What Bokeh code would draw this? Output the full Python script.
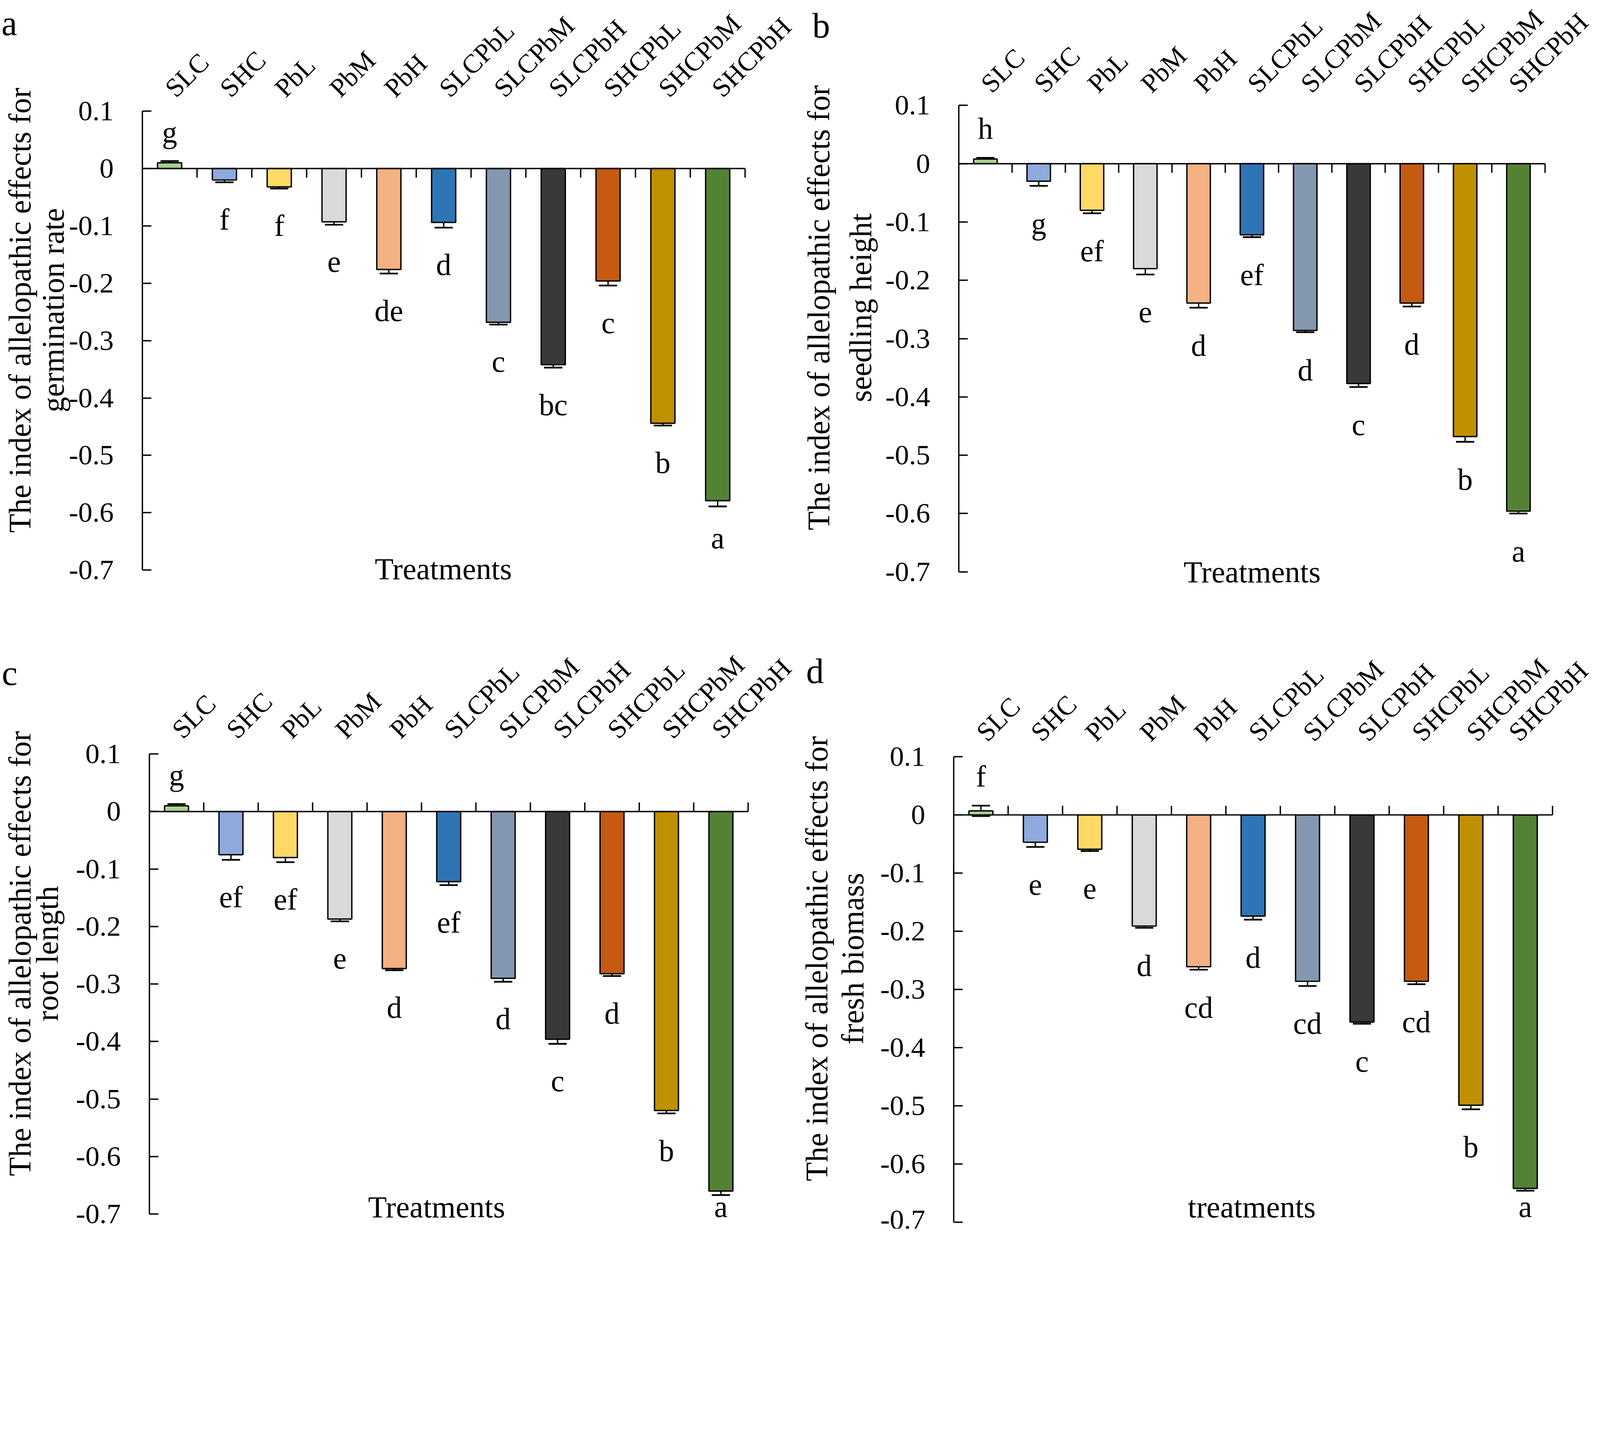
import math
from bokeh.plotting import figure
from bokeh.layouts import gridplot
from bokeh.models import (ColumnDataSource, Range1d, FixedTicker, LinearAxis,
                          NumeralTickFormatter, Whisker, TeeHead)
from bokeh.core.properties import value
from bokeh.embed import file_html
from bokeh.resources import INLINE

# ---------------- data ----------------
treatments = ["SLC", "SHC", "PbL", "PbM", "PbH", "SLCPbL", "SLCPbM",
              "SLCPbH", "SHCPbL", "SHCPbM", "SHCPbH"]
colors = ["#A9D18E", "#8FAADC", "#FFD966", "#D9D9D9", "#F4B183", "#2E75B6",
          "#8497B0", "#3A3838", "#C55A11", "#BF9000", "#548235"]

germ_mean = [0.010, -0.020, -0.032, -0.093, -0.176, -0.094, -0.268, -0.342, -0.196, -0.444, -0.579]
germ_se = [0.003, 0.004, 0.003, 0.005, 0.007, 0.009, 0.004, 0.005, 0.008, 0.004, 0.010]
germ_letters = ["g", "f", "f", "e", "de", "d", "c", "bc", "c", "b", "a"]

height_mean = [0.008, -0.030, -0.080, -0.180, -0.239, -0.122, -0.286, -0.377, -0.239, -0.468, -0.596]
height_se = [0.002, 0.008, 0.005, 0.010, 0.008, 0.004, 0.003, 0.006, 0.006, 0.009, 0.004]
height_letters = ["h", "g", "ef", "e", "d", "ef", "d", "c", "d", "b", "a"]

root_mean = [0.010, -0.075, -0.080, -0.187, -0.273, -0.122, -0.290, -0.396, -0.282, -0.520, -0.660]
root_se = [0.003, 0.009, 0.008, 0.004, 0.003, 0.006, 0.006, 0.008, 0.004, 0.005, 0.007]
root_letters = ["g", "ef", "ef", "e", "d", "ef", "d", "c", "d", "b", "a"]

bio_mean = [0.007, -0.047, -0.059, -0.191, -0.261, -0.174, -0.286, -0.356, -0.286, -0.499, -0.642]
bio_se = [0.009, 0.008, 0.003, 0.003, 0.005, 0.006, 0.008, 0.003, 0.005, 0.007, 0.004]
bio_letters = ["f", "e", "e", "d", "cd", "d", "cd", "c", "cd", "b", "a"]

y_ticks = [0.1, 0, -0.1, -0.2, -0.3, -0.4, -0.5, -0.6, -0.7]
Y_MIN, Y_MAX = -0.7, 0.1

# ---------------- layout helpers ----------------
FONT = "Liberation Serif"
K = 4096 / 4740            # css px per reference px (page is rendered scaled)
FIG_W, FIG_H = 2040, 1573  # css px per panel
WT, HT = FIG_W / K, FIG_H / K
M = 8 / K
SHIFT = 0.19               # em correction of the rendered text baseline


def S(v):
    return v * K


def I(v):
    return int(round(v * K))


def fs(v):
    return "%.1fpx" % (v * K)


def make_panel(mean, se, letters, ytitle, xtitle, tag, geo):
    L, R, T, B, ox, oy = geo["L"], geo["R"], geo["T"], geo["B"], geo["ox"], geo["oy"]
    n = len(treatments)
    cw = (R - L) / n
    u = (B - T) / (Y_MAX - Y_MIN)

    def X(ix):
        return 0.5 + (ix - L) / cw

    def Y(iy):
        return Y_MAX - (iy - T) / u

    floor = Y(geo["low_px"]) if geo.get("low_px") is not None else None
    xpos = list(range(1, n + 1))
    upper = [m + s for m, s in zip(mean, se)]
    lower = [m - s for m, s in zip(mean, se)]
    ly = []
    for m, up, lo in zip(mean, upper, lower):
        v = up + 0.04 if m >= 0 else lo - 0.075
        if floor is not None:
            v = max(v, floor)
        ly.append(v + SHIFT * 90 / u)
    src = ColumnDataSource(dict(x=xpos, mean=mean, upper=upper, lower=lower,
                                color=colors, letter=letters, ly=ly,
                                bx=[v + 0.5 for v in xpos]))

    p = figure(width=FIG_W, height=FIG_H,
               x_range=Range1d(X(ox), X(ox + WT)),
               y_range=Range1d(Y(oy + HT), Y(oy)),
               x_axis_location=None, y_axis_location=None,
               min_border=0, output_backend="svg", toolbar_location=None)
    p.outline_line_color = None
    p.background_fill_color = "white"
    p.grid.visible = False

    lw = S(4)
    # bars
    p.vbar(x="x", top="mean", bottom=0, width=0.44, fill_color="color",
           line_color="black", line_width=lw, source=src)
    # zero line and category boundary ticks
    p.segment(x0=[0.5], y0=[0], x1=[n + 0.5], y1=[0], line_color="black", line_width=lw)
    tick_len = geo["tick_dir"] * 27 / u
    p.segment(x0="bx", y0=0, x1="bx", y1=tick_len, line_color="black",
              line_width=lw, source=src)
    # error bars
    p.add_layout(Whisker(source=src, base="x", upper="upper", lower="lower",
                         line_color="black", line_width=lw,
                         upper_head=TeeHead(size=S(54), line_color="black", line_width=S(5)),
                         lower_head=TeeHead(size=S(54), line_color="black", line_width=S(5))))
    # significance letters
    p.text(x="x", y="ly", text="letter", source=src, text_align="center",
           text_baseline="alphabetic", text_font=value(FONT),
           text_font_size=value(fs(90)), text_color="black")

    # y axis
    ya = LinearAxis(fixed_location=0.5, bounds=(Y_MIN, Y_MAX),
                    ticker=FixedTicker(ticks=y_ticks),
                    formatter=NumeralTickFormatter(format="0.[0]"))
    ya.axis_line_width = lw
    ya.axis_line_color = "black"
    ya.major_tick_line_width = lw
    ya.major_tick_line_color = "black"
    ya.major_tick_in = I(27)
    ya.major_tick_out = 0
    ya.minor_tick_line_color = None
    ya.major_label_standoff = I(84)
    ya.major_label_text_font = FONT
    ya.major_label_text_font_size = fs(84)
    ya.major_label_text_color = "black"
    p.add_layout(ya, "left")

    # category names on top
    xa = LinearAxis(fixed_location=Y_MAX, ticker=FixedTicker(ticks=xpos),
                    major_label_overrides={k: t for k, t in zip(xpos, treatments)})
    xa.axis_line_color = None
    xa.major_tick_line_color = None
    xa.minor_tick_line_color = None
    xa.major_tick_in = 0
    xa.major_tick_out = 0
    xa.major_label_orientation = math.pi / 4
    xa.major_label_standoff = I(geo["std"])
    xa.major_label_text_font = FONT
    xa.major_label_text_font_size = fs(79)
    xa.major_label_text_color = "black"
    p.add_layout(xa, "above")

    # y title (two lines), x title, panel tag
    ymid = -0.247
    p.text(x=[X(geo["t1"] - SHIFT * 92), X(geo["t2"] - SHIFT * 92)], y=[ymid, ymid],
           text=ytitle, angle=math.pi / 2, text_align="center", text_baseline="alphabetic",
           text_font=value(FONT), text_font_size=value(fs(92)), text_color="black")
    p.text(x=[X(geo["xt"][0])], y=[Y(geo["xt"][1] - SHIFT * 91)], text=[xtitle],
           text_align="center", text_baseline="alphabetic", text_font=value(FONT),
           text_font_size=value(fs(91)), text_color="black")
    p.text(x=[X(geo["tag"][0])], y=[Y(geo["tag"][1] - SHIFT * 105)], text=[tag],
           text_align="left", text_baseline="alphabetic", text_font=value(FONT),
           text_font_size=value(fs(105)), text_color="black")
    return p


geo_a = dict(L=430, R=2216, T=338, B=1698, ox=M, oy=M, tick_dir=-1, std=56,
             t1=85, t2=184, xt=(1322, 1712), tag=(13, 97), low_px=1621)
geo_b = dict(L=2849, R=4586, T=321, B=1703, ox=M + WT, oy=M, tick_dir=-1, std=52,
             t1=2452, t2=2576, xt=(3718, 1721), tag=(2415, 105), low_px=None)
geo_c = dict(L=451, R=2225, T=2243, B=3606, ox=M, oy=M + HT, tick_dir=1, std=60,
             t1=85, t2=166, xt=(1302, 3602), tag=(14, 2023), low_px=3602)
geo_d = dict(L=2834, R=4608, T=2251, B=3630, ox=M + WT, oy=M + HT, tick_dir=1, std=60,
             t1=2446, t2=2552, xt=(3717, 3602), tag=(2397, 2017), low_px=3602)

pa = make_panel(germ_mean, germ_se, germ_letters,
                ["The index of allelopathic effects for", "germination rate"],
                "Treatments", "a", geo_a)
pb = make_panel(height_mean, height_se, height_letters,
                ["The index of allelopathic effects for", "seedling height"],
                "Treatments", "b", geo_b)
pc = make_panel(root_mean, root_se, root_letters,
                ["The index of allelopathic effects for", "root length"],
                "Treatments", "c", geo_c)
pd_ = make_panel(bio_mean, bio_se, bio_letters,
                 ["The index of allelopathic effects for", "fresh biomass"],
                 "treatments", "d", geo_d)

grid = gridplot([[pa, pb], [pc, pd_]], toolbar_location=None)
open("out.html", "w").write(file_html(grid, INLINE))
